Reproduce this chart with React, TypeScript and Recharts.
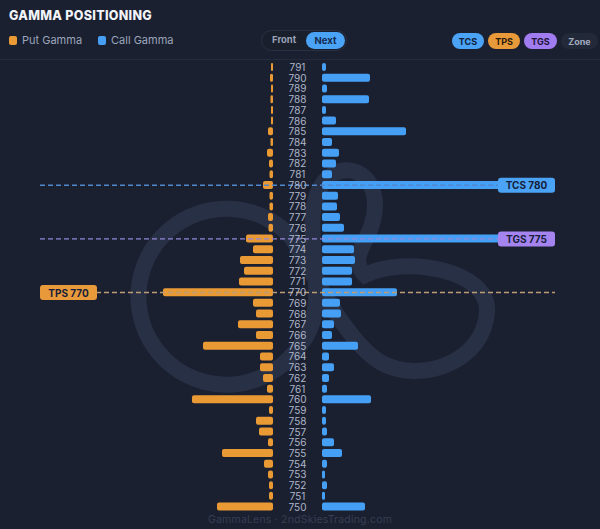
import React from "react";
import { BarChart, Bar, XAxis, YAxis, ReferenceLine, LabelList } from "recharts";

const strikes = [791,790,789,788,787,786,785,784,783,782,781,780,779,778,777,776,775,774,773,772,771,770,769,768,767,766,765,764,763,762,761,760,759,758,757,756,755,754,753,752,751,750];
const putGamma = [2,3,2,2.5,2,2,5,2.5,6,4,3.5,10,3.5,3.5,5,4.5,27,20,33,29,34,110,20,17,35,17,70,13,13,10,6,81,4,17,14,5,51,9,5,4,4,56];
const callGamma = [4,48,5,47,4,14,84,10,17,14,10,200,16,15,18,22,200,32,33,30,30,75,18,19,12,10,36,7,12,7,5,49,4,4,5,12,20,5,3,5,3,43];

const levelNames = ["TCS", "TGS", "TPS"];
const levelStrikes = [780, 775, 770];

const GAP = 24.5;
const HALF = 257.5;

const BG = "#1b2030";
const PUT = "#E99A34";
const CALL = "#45A0F5";
const FONT = "Inter, 'Noto Sans', sans-serif";

const data = strikes.map((s, i) => ({
  strike: s,
  gapNeg: -GAP,
  gapPos: GAP,
  put: -putGamma[i],
  call: callGamma[i],
}));

const StrikeLabel = (props: any) => {
  const { x, y, height, value } = props;
  return (
    <text x={x} y={y + height / 2} textAnchor="middle" dominantBaseline="central" fill="#aeb6c9" fontSize={10} fontFamily={FONT}>
      {value}
    </text>
  );
};

const makeLevelLabel = (name: string, strike: number, color: string, side: "left" | "right") => (props: any) => {
  const vb = props.viewBox || {};
  const w = 57;
  const h = 15;
  const bx = side === "right" ? vb.x + vb.width - w : vb.x;
  const by = vb.y - h / 2;
  return (
    <g>
      <rect x={bx} y={by} width={w} height={h} rx={3} fill={color} />
      <text x={bx + w / 2} y={vb.y} textAnchor="middle" dominantBaseline="central" fill="#16203a" fontSize={10} fontWeight={700} fontFamily={FONT}>
        {`${name} ${strike}`}
      </text>
    </g>
  );
};

const badge = (label: string, left: number, width: number, bg: string, color: string) => (
  <div style={{ position: "absolute", left, top: 33, width, height: 16, borderRadius: 8, background: bg, color, fontSize: 9, fontWeight: 700, fontFamily: FONT, display: "flex", alignItems: "center", justifyContent: "center" }}>
    {label}
  </div>
);

export default function App() {
  return (
    <div style={{ position: "absolute", left: 0, top: 0, width: 600, height: 529, background: BG, overflow: "hidden", fontFamily: FONT }}>
      <svg width={600} height={529} style={{ position: "absolute", left: 0, top: 0 }}>
        <path
          d="M 292 238 A 88 88 0 1 0 300 345 C 335 305, 300 235, 318 192 C 332 158, 375 165, 375 205 C 375 240, 345 255, 365 275 C 405 255, 490 270, 487 312 C 484 362, 420 385, 380 362 C 348 342, 322 290, 292 238 Z"
          fill="none"
          stroke="#283045"
          strokeWidth={16}
        />
      </svg>

      <div style={{ position: "absolute", left: 9, top: 8, fontSize: 12.5, fontWeight: 800, color: "#f1f3f8", letterSpacing: 0.3 }}>GAMMA POSITIONING</div>

      <div style={{ position: "absolute", left: 9, top: 36, width: 8, height: 9, borderRadius: 2, background: PUT }} />
      <div style={{ position: "absolute", left: 22, top: 33, fontSize: 11, color: "#9aa4ba" }}>Put Gamma</div>
      <div style={{ position: "absolute", left: 98, top: 36, width: 8, height: 9, borderRadius: 2, background: CALL }} />
      <div style={{ position: "absolute", left: 111, top: 33, fontSize: 11, color: "#9aa4ba" }}>Call Gamma</div>

      <div style={{ position: "absolute", left: 261, top: 30, width: 86, height: 21, borderRadius: 11, border: "1px solid #283043", boxSizing: "border-box", background: "#1a1f2c" }} />
      <div style={{ position: "absolute", left: 272, top: 34, fontSize: 9.5, fontWeight: 700, color: "#98a1b6" }}>Front</div>
      <div style={{ position: "absolute", left: 306, top: 32, width: 39, height: 17, borderRadius: 9, background: "#4aa3f5", color: "#142a4e", fontSize: 9.5, fontWeight: 700, display: "flex", alignItems: "center", justifyContent: "center" }}>Next</div>

      {badge("TCS", 452, 32, "#4aa3f5", "#10203a")}
      {badge("TPS", 488, 32, "#e8993a", "#2a1a08")}
      {badge("TGS", 524, 33, "#a07cf0", "#1e1436")}
      {badge("Zone", 561, 37, "#222939", "#a4acc0")}

      <div style={{ position: "absolute", left: 0, top: 59, width: 600, height: 1, background: "#252b3c" }} />

      <div style={{ position: "absolute", left: 0, top: 0 }}>
        <BarChart
          width={600}
          height={529}
          data={data}
          layout="vertical"
          stackOffset="sign"
          margin={{ top: 62, bottom: 16.7, left: 40, right: 45 }}
          barSize={8}
        >
          <XAxis type="number" domain={[-HALF, HALF]} hide allowDataOverflow />
          <YAxis type="category" dataKey="strike" hide />
          <Bar dataKey="gapNeg" stackId="s" fill="transparent" isAnimationActive={false} />
          <Bar dataKey="gapPos" stackId="s" fill="transparent" isAnimationActive={false}>
            <LabelList dataKey="strike" content={StrikeLabel} />
          </Bar>
          <ReferenceLine y={levelStrikes[0]} stroke="#4f88cc" strokeDasharray="5 3" strokeWidth={1.4} label={makeLevelLabel(levelNames[0], levelStrikes[0], "#4aa3f5", "right")} />
          <ReferenceLine y={levelStrikes[1]} stroke="#9387dc" strokeDasharray="5 3" strokeWidth={1.4} label={makeLevelLabel(levelNames[1], levelStrikes[1], "#a584ef", "right")} />
          <ReferenceLine y={levelStrikes[2]} stroke="#bd9c76" strokeDasharray="5 3" strokeWidth={1.4} label={makeLevelLabel(levelNames[2], levelStrikes[2], "#e8993a", "left")} />
          <Bar dataKey="put" stackId="s" fill={PUT} radius={2} isAnimationActive={false} />
          <Bar dataKey="call" stackId="s" fill={CALL} radius={2} isAnimationActive={false} />
        </BarChart>
      </div>

      <div style={{ position: "absolute", left: 0, top: 511, width: 600, height: 18, background: BG }} />
      <div style={{ position: "absolute", left: 0, top: 513, width: 600, textAlign: "center", fontSize: 10.5, color: "#363e52", letterSpacing: 0.2 }}>GammaLens · 2ndSkiesTrading.com</div>
    </div>
  );
}
